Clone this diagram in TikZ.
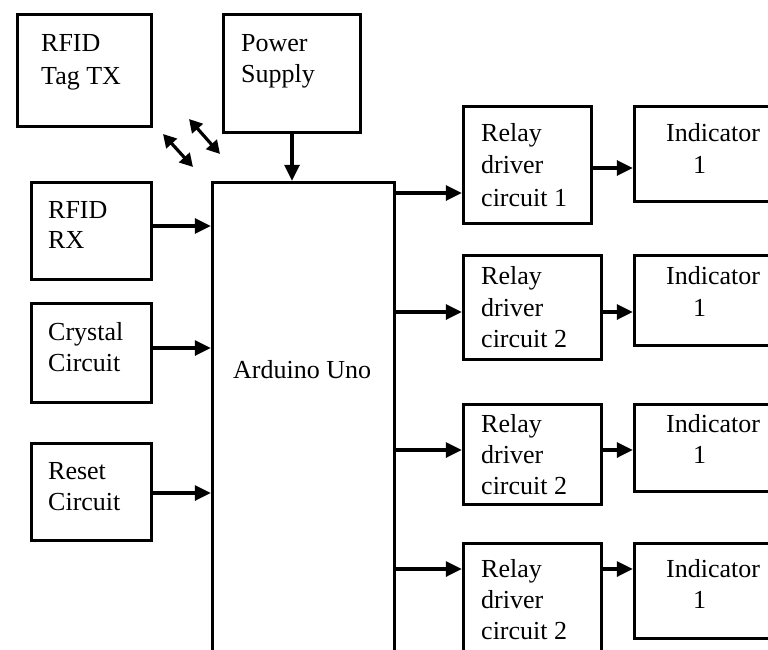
\documentclass[tikz,border=0pt]{standalone}
\usepackage{fontspec}
\setmainfont{Liberation Serif}
\usetikzlibrary{arrows.meta}
\begin{document}
\begin{tikzpicture}[x=1pt,y=-1pt,
  box/.style={draw=black,line width=3.4pt,rectangle,inner sep=0pt},
  txt/.style={anchor=base west,inner sep=0pt,font=\fontsize{26}{32}\selectfont},
  arr/.style={line width=3.2pt,-{Triangle[length=16pt,width=15pt]}},
  darr/.style={line width=3.2pt,{Triangle[length=13pt,width=14pt]}-{Triangle[length=13pt,width=14pt]}}]
\useasboundingbox (0,0) rectangle (768,650);
\clip (0,0) rectangle (768,650);
% boxes
\node[box,minimum width=134pt,minimum height=112pt] (tag) at (84.5,70.5) {};
\node[box,minimum width=137pt,minimum height=118pt] (ps) at (292,73.5) {};
\node[box,minimum width=120pt,minimum height=97pt] (rx) at (91.5,231) {};
\node[box,minimum width=120pt,minimum height=99pt] (cry) at (91.5,353) {};
\node[box,minimum width=120pt,minimum height=97pt] (rst) at (91.5,492) {};
\node[box,minimum width=182pt,minimum height=497.5pt] (ard) at (303.5,431.25) {};
\node[box,minimum width=128pt,minimum height=117pt] (r1) at (527.5,165) {};
\node[box,minimum width=155.5pt,minimum height=95pt] (i1) at (712.25,154) {};
\node[box,minimum width=138pt,minimum height=104pt] (r2) at (532.5,307.5) {};
\node[box,minimum width=155.5pt,minimum height=90pt] (i2) at (712.25,300.5) {};
\node[box,minimum width=138pt,minimum height=100pt] (r3) at (532.5,454.5) {};
\node[box,minimum width=155.5pt,minimum height=87pt] (i3) at (712.25,448) {};
\node[box,minimum width=138pt,minimum height=156.5pt] (r4) at (532.5,621.75) {};
\node[box,minimum width=155.5pt,minimum height=95pt] (i4) at (712.25,591) {};
% texts
\node[txt] (t1a) at (41,52) {RFID};
\node[txt] (t1b) at (41,85) {Tag TX};
\node[txt] (t2a) at (241,52) {Power};
\node[txt] (t2b) at (241,83) {Supply};
\node[txt] (t3a) at (48,218) {RFID};
\node[txt] (t3b) at (48,248) {RX};
\node[txt] (t4a) at (48,340) {Crystal};
\node[txt] (t4b) at (48,371) {Circuit};
\node[txt] (t5a) at (48,479) {Reset};
\node[txt] (t5b) at (48,510) {Circuit};
\node[txt] (t6) at (233,378) {Arduino Uno};
\node[txt] (r1a) at (481,142) {Relay};
\node[txt] (r1b) at (481,173) {driver};
\node[txt] (r1c) at (481,206) {circuit 1};
\node[txt] (r2a) at (481,284) {Relay};
\node[txt] (r2b) at (481,316) {driver};
\node[txt] (r2c) at (481,347) {circuit 2};
\node[txt] (r3a) at (481,432) {Relay};
\node[txt] (r3b) at (481,463) {driver};
\node[txt] (r3c) at (481,494) {circuit 2};
\node[txt] (r4a) at (481,577) {Relay};
\node[txt] (r4b) at (481,608) {driver};
\node[txt] (r4c) at (481,639) {circuit 2};
\node[txt] (i1a) at (666,142) {Indicator};
\node[txt] (i1b) at (693,173) {1};
\node[txt] (i2a) at (666,284) {Indicator};
\node[txt] (i2b) at (693,316) {1};
\node[txt] (i3a) at (666,432) {Indicator};
\node[txt] (i3b) at (693,463) {1};
\node[txt] (i4a) at (666,577) {Indicator};
\node[txt] (i4b) at (693,608) {1};
% connector anchor points
\coordinate (rxo) at ([yshift=5pt]rx.east);
\coordinate (cryo) at ([yshift=5pt]cry.east);
\coordinate (rsto) at ([yshift=-1pt]rst.east);
\coordinate (r1i) at ([yshift=-28pt]r1.west);
\coordinate (r2i) at ([yshift=-4.5pt]r2.west);
\coordinate (r3i) at ([yshift=4.5pt]r3.west);
\coordinate (r4i) at ([yshift=52.75pt]r4.west);
\coordinate (r1o) at ([yshift=-3pt]r1.east);
\coordinate (r2o) at ([yshift=-4.5pt]r2.east);
\coordinate (r3o) at ([yshift=4.5pt]r3.east);
\coordinate (r4o) at ([yshift=52.75pt]r4.east);
% connectors
\draw[arr] (ps.south) -- (ps.south |- ard.north);
\draw[arr] (rxo) -- (ard.west |- rxo);
\draw[arr] (cryo) -- (ard.west |- cryo);
\draw[arr] (rsto) -- (ard.west |- rsto);
\draw[arr] (ard.east |- r1i) -- (r1i);
\draw[arr] (ard.east |- r2i) -- (r2i);
\draw[arr] (ard.east |- r3i) -- (r3i);
\draw[arr] (ard.east |- r4i) -- (r4i);
\draw[arr] (r1o) -- (i1.west |- r1o);
\draw[arr] (r2o) -- (i2.west |- r2o);
\draw[arr] (r3o) -- (i3.west |- r3o);
\draw[arr] (r4o) -- (i4.west |- r4o);
% wireless double arrows
\coordinate (w1a) at (163,134);
\coordinate (w1b) at (193,167);
\coordinate (w2a) at (189,119);
\coordinate (w2b) at (220,154);
\draw[darr] (w1a) -- (w1b);
\draw[darr] (w2a) -- (w2b);
\end{tikzpicture}
\end{document}
